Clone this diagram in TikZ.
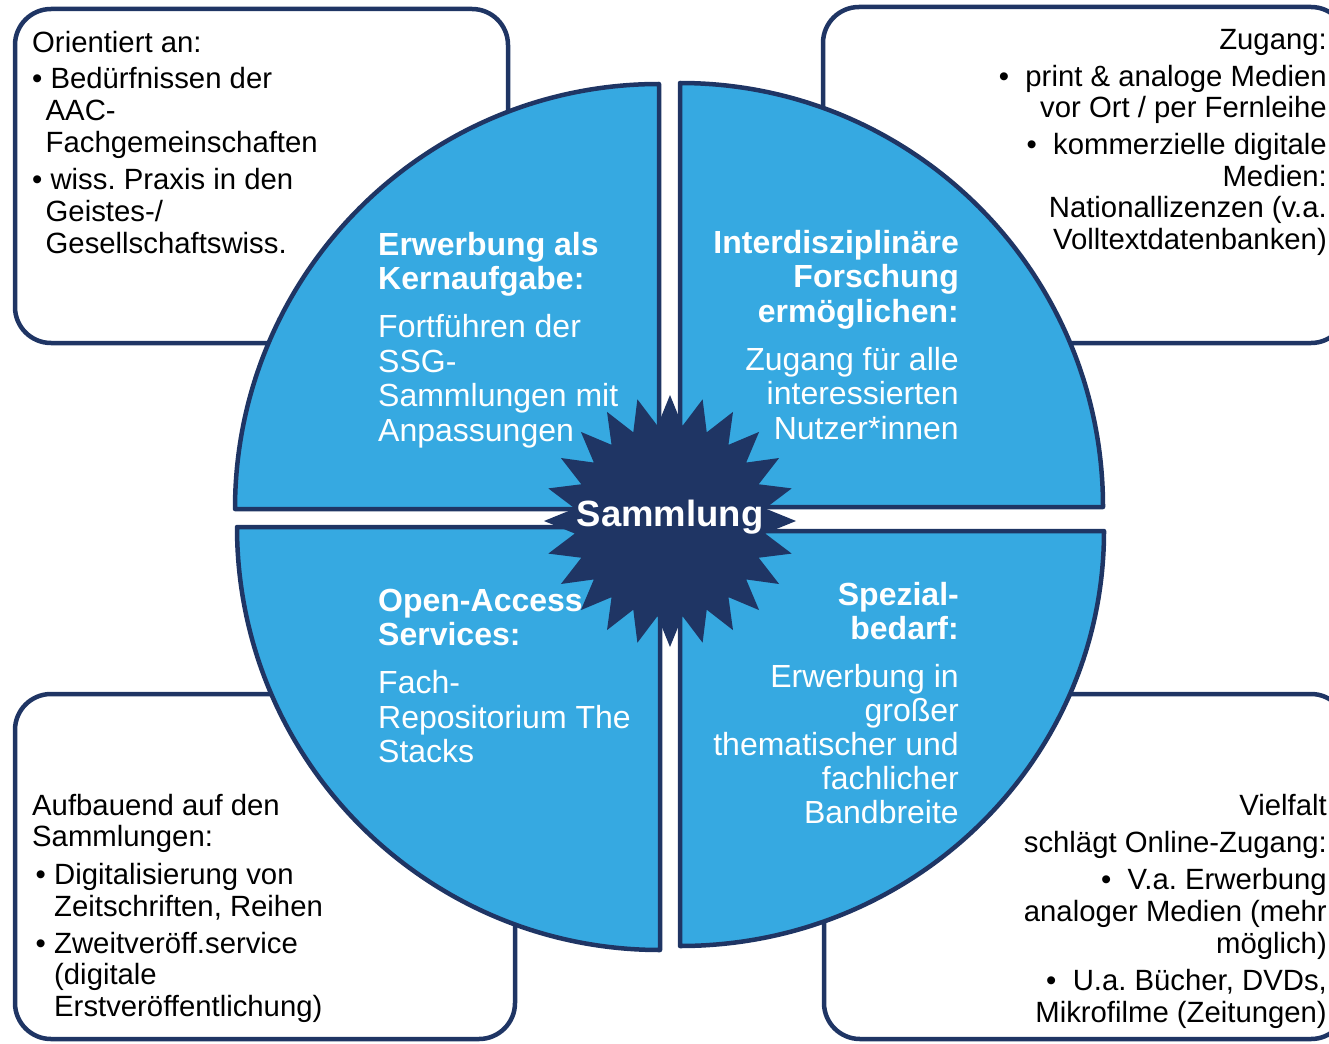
\documentclass[tikz,border=0pt]{standalone}
\usepackage{fontspec}
\setmainfont{Liberation Sans}
\frenchspacing
\definecolor{navy}{RGB}{31,53,100}
\definecolor{qblue}{RGB}{54,169,225}
\begin{document}
\begin{tikzpicture}[x=1pt,y=1pt,yscale=-1,
  quad/.style={fill=qblue,draw=navy,line width=4.5pt,line join=round},
  cbox/.style={draw=navy,line width=4.5pt,rounded corners=36pt,fill=white},
  btxt/.style={inner sep=0pt,text=black},
  qtxt/.style={inner sep=0pt,text=white}]
\useasboundingbox (0,0) rectangle (1329,1043);
\clip (0,0) rectangle (1329,1043);
% corner boxes
\draw[cbox] (15,9) rectangle (508,343);
\draw[cbox] (823,7) rectangle (1347,343);
\draw[cbox] (15,694) rectangle (515,1039);
\draw[cbox] (824,694) rectangle (1347,1039);
% quadrants
\draw[quad] (659,509) -- (235,509) arc[start angle=180,end angle=270,x radius=424pt,y radius=425pt] -- cycle;
\draw[quad] (680,507) -- (680,83) arc[start angle=270,end angle=360,x radius=423pt,y radius=424pt] -- cycle;
\draw[quad] (660,527) -- (237,527) arc[start angle=180,end angle=90,x radius=423pt,y radius=423pt] -- cycle;
\draw[quad] (680,531) -- (1104,531) arc[start angle=0,end angle=90,x radius=424pt,y radius=415pt] -- cycle;
% star
\fill[navy] plot[domain=0:47,samples=48,variable=\k]
  ({670+ifthenelse(mod(\k,2)==0,126,96)*cos(\k*7.5)},{521+ifthenelse(mod(\k,2)==0,126,96)*sin(\k*7.5)}) -- cycle;
\node[qtxt,font=\fontsize{36.5}{40}\selectfont\bfseries,anchor=base] (sammlung) at (670,526) {Sammlung};
% box texts
\node[btxt,font=\fontsize{29.3}{32}\selectfont,anchor=north west,align=left] (tlt) at (32,25)
 {\rule{0pt}{27pt}Orientiert an:\\[4pt]
  •\ Bedürfnissen der\\
  \hspace*{13.5pt}AAC-\\
  \hspace*{13.5pt}Fachgemeinschaften\\[5pt]
  •\ wiss. Praxis in den\\
  \hspace*{13.5pt}Geistes-/\\
  \hspace*{13.5pt}Gesellschaftswiss.};
\node[btxt,font=\fontsize{29.3}{31.5}\selectfont,anchor=north east,align=right] (trt) at (1327,22)
 {\rule{0pt}{27pt}Zugang:\\[5.5pt]
  •\ \ print \& analoge Medien\\
  vor Ort / per Fernleihe\\[5.5pt]
  •\ \ kommerzielle digitale\\
  Medien:\\
  Nationallizenzen (v.a.\\
  Volltextdatenbanken)};
\node[btxt,font=\fontsize{29.3}{31.5}\selectfont,anchor=north west,align=left] (blt) at (32,788)
 {\rule{0pt}{27pt}Aufbauend auf den\\
  Sammlungen:\\[6.5pt]
  \makebox[22pt][l]{\hspace{3.5pt}•}Digitalisierung von\\
  \hspace*{22pt}Zeitschriften, Reihen\\[5.5pt]
  \makebox[22pt][l]{\hspace{3.5pt}•}Zweitveröff.service\\
  \hspace*{22pt}(digitale\\
  \hspace*{22pt}Erstveröffentlichung)};
\node[btxt,font=\fontsize{29.3}{32}\selectfont,anchor=north east,align=right] (brt) at (1327,788)
 {\rule{0pt}{27pt}Vielfalt\\[5pt]
  schlägt Online-Zugang:\\[5pt]
  •\ \ V.a. Erwerbung\\
  analoger Medien (mehr\\
  möglich)\\[5pt]
  •\ \ U.a. Bücher, DVDs,\\
  Mikrofilme (Zeitungen)};
% quadrant texts
\node[qtxt,font=\fontsize{32}{34.5}\selectfont,anchor=north west,align=left] (tlq) at (378,225)
 {\rule{0pt}{30pt}\textbf{Erwerbung als}\\
  \textbf{Kernaufgabe:}\\[13.5pt]
  Fortführen der\\
  SSG-\\
  Sammlungen mit\\
  Anpassungen};
\node[qtxt,font=\fontsize{32}{34.5}\selectfont,anchor=north east,align=right] (trq) at (959,223)
 {\rule{0pt}{30pt}\textbf{Interdisziplinäre}\\
  \textbf{Forschung}\\
  \textbf{ermöglichen:}\\[13.5pt]
  Zugang für alle\\
  interessierten\\
  Nutzer*innen};
\node[qtxt,font=\fontsize{32}{34.5}\selectfont,anchor=north west,align=left] (blq) at (378,581)
 {\rule{0pt}{30pt}\textbf{Open-Access}\\
  \textbf{Services:}\\[13.5pt]
  Fach-\\
  Repositorium The\\
  Stacks};
\node[qtxt,font=\fontsize{32}{34}\selectfont,anchor=north east,align=right] (brq) at (959,575)
 {\rule{0pt}{30pt}\textbf{Spezial-}\\
  \textbf{bedarf:}\\[14pt]
  Erwerbung in\\
  großer\\
  thematischer und\\
  fachlicher\\
  Bandbreite};
\end{tikzpicture}
\end{document}
